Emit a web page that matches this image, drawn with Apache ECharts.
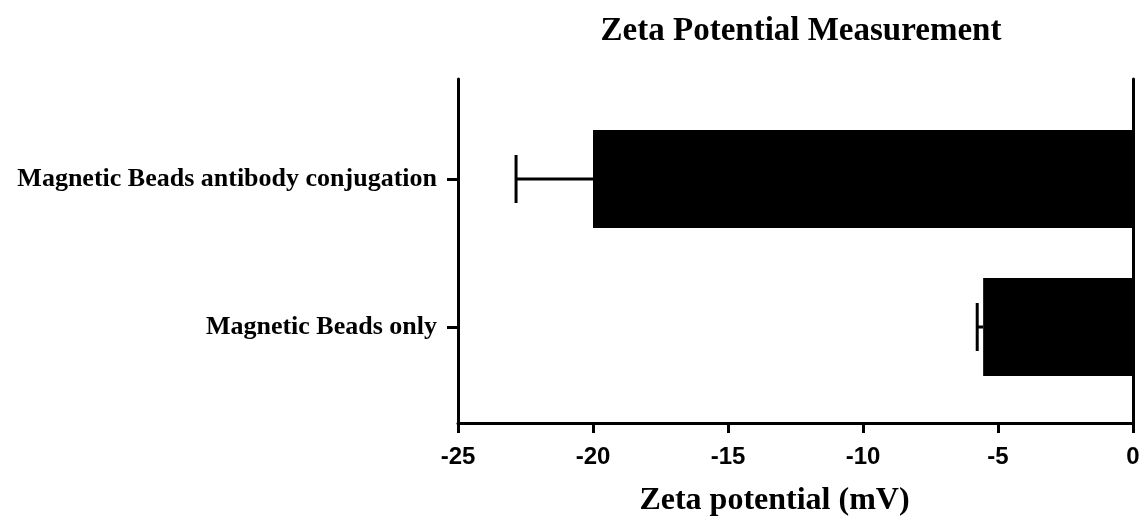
<!DOCTYPE html>
<html>
<head>
<meta charset="utf-8">
<script src="https://cdn.jsdelivr.net/npm/echarts@6/dist/echarts.min.js"></script>
<style>
html, body { margin: 0; padding: 0; background: #fff; }
#chart { width: 1146px; height: 525px; }
</style>
</head>
<body>
<div id="chart"></div>
<script>
// bottom to top on the category axis
var categories = ['Magnetic Beads only', 'Magnetic Beads antibody conjugation'];
var means = [-5.55, -20.0];
var errors = [0.22, 2.85];
var xTicks = { min: -25, max: 0, interval: 5 };

var serif = '"Liberation Serif", "Times New Roman", serif';
var sans = '"Liberation Sans", Arial, sans-serif';

var errData = categories.map(function (c, i) { return [i, means[i], errors[i]]; });

var chart = echarts.init(document.getElementById('chart'));
chart.setOption({
    animation: false,
    title: {
        text: 'Zeta Potential Measurement',
        left: 796,
        top: 10,
        textAlign: 'center',
        textStyle: { fontFamily: serif, fontWeight: 'bold', fontSize: 33, color: '#000' }
    },
    grid: [
        { left: 458, right: 13, top: 79, bottom: 102 },
        { left: 458, right: 13, top: 105, bottom: 124 }
    ],
    xAxis: [{
        gridIndex: 0,
        type: 'value',
        min: xTicks.min, max: xTicks.max, interval: xTicks.interval,
        name: 'Zeta potential (mV)',
        nameLocation: 'middle',
        nameGap: 62,
        nameTextStyle: { fontFamily: serif, fontWeight: 'bold', fontSize: 32, color: '#000', padding: [0, 42, 0, 0] },
        axisLine: { show: true, lineStyle: { color: '#000', width: 3 } },
        axisTick: { show: true, length: 10, lineStyle: { color: '#000', width: 3 } },
        axisLabel: { fontFamily: sans, fontWeight: 'bold', fontSize: 24, color: '#000', margin: 22 },
        splitLine: { show: false }
    }, {
        gridIndex: 1,
        type: 'value',
        min: xTicks.min, max: xTicks.max,
        show: false
    }],
    yAxis: [{
        gridIndex: 0, type: 'value', position: 'left',
        axisLine: { show: true, onZero: false, lineStyle: { color: '#000', width: 3 } },
        axisTick: { show: false }, axisLabel: { show: false }, splitLine: { show: false }
    }, {
        gridIndex: 0, type: 'value', position: 'right',
        axisLine: { show: true, onZero: false, lineStyle: { color: '#000', width: 3 } },
        axisTick: { show: false }, axisLabel: { show: false }, splitLine: { show: false }
    }, {
        gridIndex: 1, type: 'category', data: categories, position: 'left',
        axisLine: { show: false, onZero: false },
        axisTick: { show: true, alignWithLabel: true, length: 11, lineStyle: { color: '#000', width: 3 } },
        axisLabel: { fontFamily: serif, fontWeight: 'bold', fontSize: 26, color: '#000', margin: 21 },
        splitLine: { show: false }
    }],
    series: [{
        type: 'bar',
        xAxisIndex: 1, yAxisIndex: 2,
        data: means,
        barWidth: 98,
        itemStyle: { color: '#000' }
    }, {
        type: 'custom',
        xAxisIndex: 1, yAxisIndex: 2,
        data: errData,
        z: 3,
        renderItem: function (params, api) {
            var cat = api.value(0);
            var m = api.value(1);
            var e = api.value(2);
            var p0 = api.coord([m, cat]);
            var p1 = api.coord([m - e, cat]);
            var half = 24;
            var st = { stroke: '#000', lineWidth: 3 };
            return {
                type: 'group',
                children: [
                    { type: 'line', shape: { x1: p0[0], y1: p0[1], x2: p1[0], y2: p1[1] }, style: st },
                    { type: 'line', shape: { x1: p1[0], y1: p1[1] - half, x2: p1[0], y2: p1[1] + half }, style: st }
                ]
            };
        }
    }]
});
</script>
</body>
</html>
